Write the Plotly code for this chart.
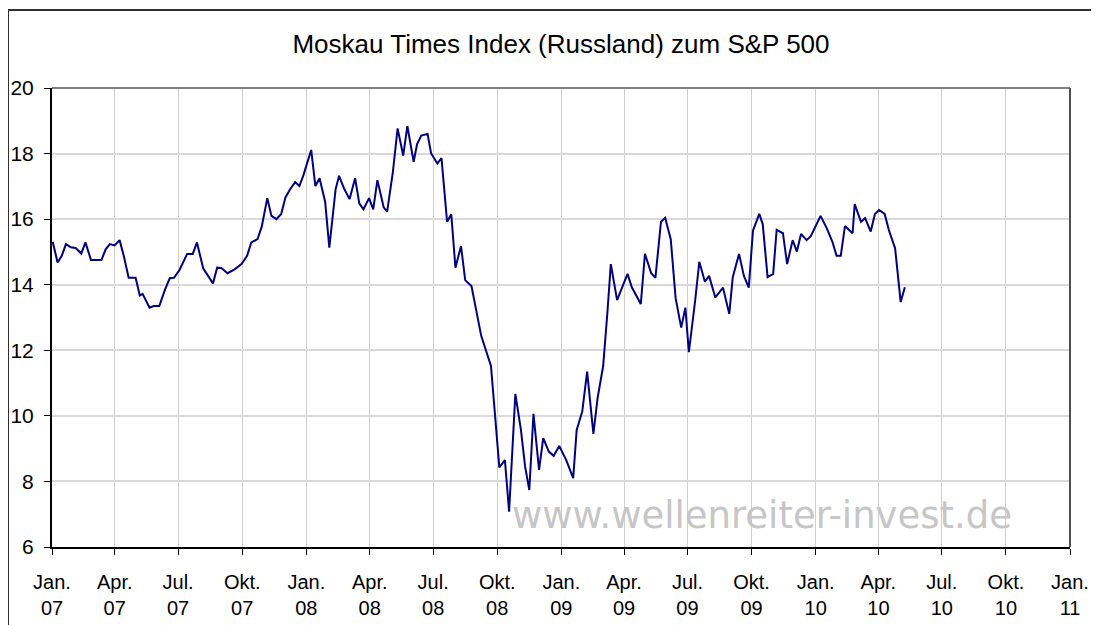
import plotly.graph_objects as go

# --- data ---
dates = [
    "2007-01-02", "2007-01-09", "2007-01-15", "2007-01-21", "2007-01-28", "2007-02-04",
    "2007-02-12", "2007-02-18", "2007-02-26", "2007-03-13", "2007-03-19", "2007-03-25",
    "2007-04-01", "2007-04-08", "2007-04-14", "2007-04-21", "2007-05-01", "2007-05-07",
    "2007-05-11", "2007-05-21", "2007-05-27", "2007-06-04", "2007-06-12", "2007-06-19",
    "2007-06-25", "2007-07-03", "2007-07-14", "2007-07-22", "2007-07-28", "2007-08-06",
    "2007-08-20", "2007-08-26", "2007-09-01", "2007-09-10", "2007-09-20", "2007-09-30",
    "2007-10-08", "2007-10-14", "2007-10-23", "2007-10-29", "2007-11-06", "2007-11-12",
    "2007-11-19", "2007-11-26", "2007-12-02", "2007-12-09", "2007-12-16", "2007-12-22",
    "2007-12-28", "2008-01-08", "2008-01-14", "2008-01-20", "2008-01-28", "2008-02-03",
    "2008-02-12", "2008-02-17", "2008-02-24", "2008-03-03", "2008-03-11", "2008-03-17",
    "2008-03-23", "2008-03-31", "2008-04-06", "2008-04-12", "2008-04-21", "2008-04-26",
    "2008-05-04", "2008-05-11", "2008-05-19", "2008-05-25", "2008-06-03", "2008-06-08",
    "2008-06-14", "2008-06-23", "2008-06-28", "2008-07-07", "2008-07-13", "2008-07-21",
    "2008-07-27", "2008-08-02", "2008-08-10", "2008-08-16", "2008-08-25", "2008-09-08",
    "2008-09-22", "2008-10-04", "2008-10-12", "2008-10-18", "2008-10-27", "2008-11-04",
    "2008-11-10", "2008-11-16", "2008-11-22", "2008-11-30", "2008-12-06", "2008-12-14",
    "2008-12-21", "2008-12-29", "2009-01-08", "2009-01-18", "2009-01-23", "2009-01-31",
    "2009-02-07", "2009-02-16", "2009-02-22", "2009-03-02", "2009-03-08", "2009-03-13",
    "2009-03-22", "2009-03-30", "2009-04-06", "2009-04-12", "2009-04-25", "2009-05-01",
    "2009-05-10", "2009-05-16", "2009-05-24", "2009-05-30", "2009-06-07", "2009-06-14",
    "2009-06-22", "2009-06-28", "2009-07-03", "2009-07-12", "2009-07-18", "2009-07-26",
    "2009-08-01", "2009-08-10", "2009-08-21", "2009-08-30", "2009-09-04", "2009-09-13",
    "2009-09-20", "2009-09-27", "2009-10-03", "2009-10-12", "2009-10-17", "2009-10-24",
    "2009-11-01", "2009-11-06", "2009-11-15", "2009-11-21", "2009-11-29", "2009-12-05",
    "2009-12-11", "2009-12-19", "2009-12-25", "2010-01-08", "2010-01-17", "2010-01-25",
    "2010-01-31", "2010-02-06", "2010-02-12", "2010-02-23", "2010-02-26", "2010-03-07",
    "2010-03-13", "2010-03-21", "2010-03-27", "2010-04-02", "2010-04-10", "2010-04-16",
    "2010-04-25", "2010-05-03", "2010-05-09",
]
values = [
    15.31, 14.68, 14.88, 15.24, 15.14, 15.12,
    14.95, 15.29, 14.75, 14.75, 15.08, 15.24,
    15.20, 15.36, 14.88, 14.21, 14.21, 13.67,
    13.72, 13.30, 13.35, 13.35, 13.84, 14.20,
    14.21, 14.45, 14.94, 14.94, 15.29, 14.50,
    14.04, 14.52, 14.51, 14.35, 14.47, 14.63,
    14.88, 15.29, 15.39, 15.77, 16.64, 16.10,
    16.00, 16.16, 16.66, 16.92, 17.13, 17.01,
    17.35, 18.11, 17.01, 17.25, 16.53, 15.13,
    16.91, 17.32, 16.94, 16.61, 17.25, 16.48,
    16.30, 16.64, 16.30, 17.19, 16.36, 16.23,
    17.40, 18.77, 17.94, 18.84, 17.75, 18.29,
    18.55, 18.60, 18.01, 17.70, 17.86, 15.92,
    16.15, 14.52, 15.18, 14.14, 13.96, 12.44,
    11.52, 8.43, 8.65, 7.08, 10.67, 9.57,
    8.45, 7.74, 10.06, 8.35, 9.32, 8.91,
    8.78, 9.08, 8.65, 8.10, 9.57, 10.13,
    11.35, 9.45, 10.54, 11.52, 13.13, 14.63,
    13.53, 13.94, 14.33, 13.93, 13.41, 14.94,
    14.35, 14.21, 15.92, 16.04, 15.39, 13.59,
    12.69, 13.30, 11.94, 13.51, 14.70, 14.09,
    14.27, 13.61, 13.91, 13.11, 14.23, 14.94,
    14.27, 13.91, 15.65, 16.16, 15.85, 14.23,
    14.33, 15.67, 15.57, 14.63, 15.36, 15.01,
    15.55, 15.36, 15.48, 16.10, 15.72, 15.31,
    14.88, 14.88, 15.79, 15.57, 16.46, 15.92,
    16.03, 15.62, 16.16, 16.28, 16.16, 15.67,
    15.11, 13.47, 13.92,
]

tick_dates = [
    "2007-01-01", "2007-04-01", "2007-07-01", "2007-10-01",
    "2008-01-01", "2008-04-01", "2008-07-01", "2008-10-01",
    "2009-01-01", "2009-04-01", "2009-07-01", "2009-10-01",
    "2010-01-01", "2010-04-01", "2010-07-01", "2010-10-01",
    "2011-01-01",
]
tick_months = ["Jan.", "Apr.", "Jul.", "Okt."] * 4 + ["Jan."]
tick_years = ["07"] * 4 + ["08"] * 4 + ["09"] * 4 + ["10"] * 4 + ["11"]
y_ticks = [6, 8, 10, 12, 14, 16, 18, 20]

title_text = "Moskau Times Index (Russland) zum S&P 500"
watermark = "www.wellenreiter-invest.de"

FONT = "Arial, 'Liberation Sans', sans-serif"

# figure is placed by the page with an 8px body margin
W, H = 1091, 617
L, T, PW, PH = 44, 80, 1018, 459

fig = go.Figure()
fig.add_trace(go.Scatter(
    x=dates, y=values, mode="lines",
    line=dict(color="#000080", width=2),
    hoverinfo="x+y", showlegend=False,
))

frame_x = (0 - L) / PW
frame_y = 1 + (T - 2) / PH

fig.update_layout(
    width=W, height=H,
    margin=dict(l=L, r=W - L - PW, t=T, b=H - T - PH, autoexpand=False),
    paper_bgcolor="white", plot_bgcolor="white",
    font=dict(family=FONT, color="black"),
    title=dict(
        text=title_text, x=0.5, xref="paper", xanchor="center",
        y=1 - 36 / H, yref="container", yanchor="middle",
        font=dict(family=FONT, size=26, color="black"),
        automargin=False,
    ),
    xaxis=dict(
        type="date",
        range=["2007-01-01", "2011-01-01"],
        tickmode="array",
        tickvals=tick_dates,
        ticktext=[m + "<br>" + y for m, y in zip(tick_months, tick_years)],
        tickfont=dict(family=FONT, size=20, color="black"),
        ticks="outside", ticklen=6, tickwidth=1, tickcolor="black",
        showgrid=True, gridcolor="#cfcfcf", gridwidth=1,
        showline=True, linecolor="black", linewidth=2,
        zeroline=False, tickangle=0, automargin=False,
        ticklabelstandoff=10,
    ),
    yaxis=dict(
        range=[6, 20],
        tickmode="array", tickvals=y_ticks,
        ticktext=[str(v) for v in y_ticks],
        tickfont=dict(family=FONT, size=21, color="black"),
        ticks="outside", ticklen=6, tickwidth=1, tickcolor="black",
        showgrid=True, gridcolor="#d9d9d9", gridwidth=2,
        showline=True, linecolor="black", linewidth=2,
        zeroline=False, automargin=False,
        ticklabelstandoff=6,
    ),
    annotations=[
        dict(
            text=watermark, xref="paper", yref="paper",
            x=(754 - L) / PW, y=(T + PH - 507) / PH,
            xanchor="center", yanchor="middle", showarrow=False,
            font=dict(family="DejaVu Sans, Verdana, sans-serif", size=37, color="#c6c6c6"),
        )
    ],
    shapes=[
        # plot-area top and right borders
        dict(type="line", xref="paper", yref="paper", x0=0, x1=1, y0=1, y1=1,
             line=dict(color="#808080", width=2)),
        dict(type="line", xref="paper", yref="paper", x0=1, x1=1, y0=0, y1=1,
             line=dict(color="#505050", width=2)),
        # outer chart frame (top and left edges visible)
        dict(type="line", xref="paper", yref="paper",
             x0=frame_x, x1=1.2, y0=frame_y, y1=frame_y,
             line=dict(color="#303030", width=2)),
        dict(type="line", xref="paper", yref="paper",
             x0=frame_x, x1=frame_x, y0=frame_y, y1=-0.3,
             line=dict(color="#303030", width=2)),
    ],
)

fig.write_html("out.html")
